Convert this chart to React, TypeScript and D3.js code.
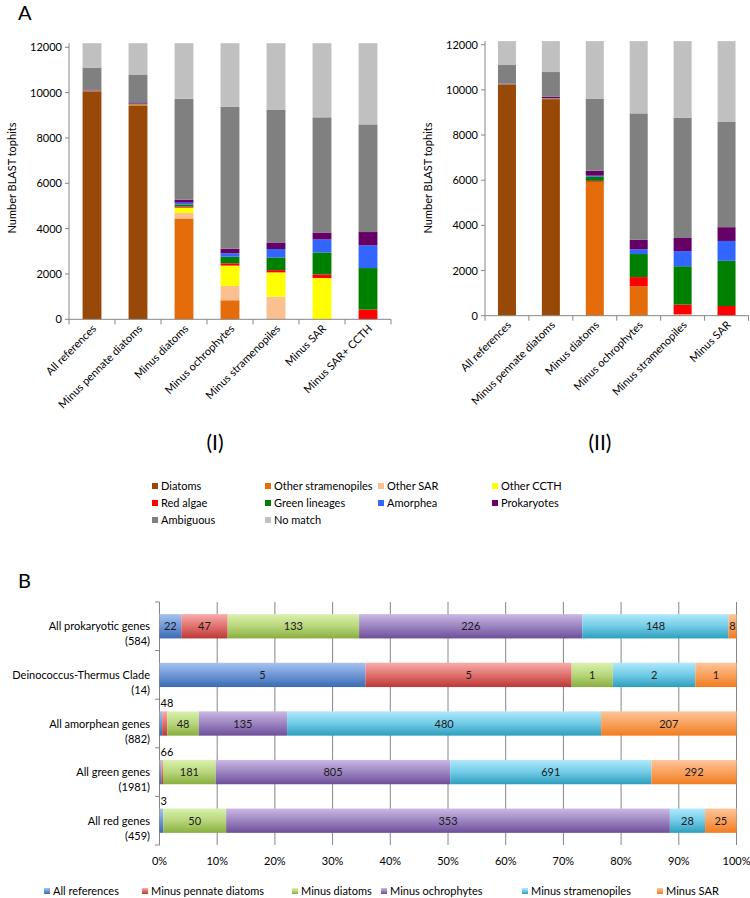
import React from "react";
import * as d3 from "d3";

const FONT = "Lato, 'Liberation Sans', sans-serif";
const AXIS = "#868686";

// ---- panel A data ----
const taxa = ["Diatoms", "Other stramenopiles", "Other SAR", "Other CCTH", "Red algae", "Green lineages", "Amorphea", "Prokaryotes", "Ambiguous", "No match"];
const taxaColors = ["#984807", "#e46c0a", "#fac090", "#ffff00", "#ff0000", "#008000", "#3366ff", "#660066", "#808080", "#c0c0c0"];

const catsI = ["All references", "Minus pennate diatoms", "Minus diatoms", "Minus ochrophytes", "Minus stramenopiles", "Minus SAR", "Minus SAR+ CCTH"];
const diatomsI = [10060, 9410, 0, 0, 0, 0, 0];
const stramI = [10, 40, 4450, 840, 0, 0, 0];
const sarI = [5, 10, 240, 630, 1000, 0, 0];
const ccthI = [5, 10, 235, 900, 1070, 1820, 0];
const redI = [5, 10, 50, 100, 100, 160, 430];
const greenI = [10, 20, 90, 290, 560, 970, 1830];
const amorpheaI = [10, 20, 80, 150, 370, 570, 1000];
const prokI = [35, 50, 130, 200, 290, 310, 590];
const ambiguousI = [950, 1230, 4460, 6260, 5845, 5080, 4750];
const noMatchI = [1090, 1380, 2445, 2810, 2945, 3270, 3580];

const catsII = ["All references", "Minus pennate diatoms", "Minus diatoms", "Minus ochrophytes", "Minus stramenopiles", "Minus SAR"];
const diatomsII = [10220, 9590, 0, 0, 0, 0];
const stramII = [10, 20, 5930, 1310, 0, 0];
const sarII = [0, 0, 0, 0, 60, 0];
const ccthII = [0, 0, 0, 0, 0, 0];
const redII = [10, 10, 40, 400, 430, 430];
const greenII = [10, 10, 180, 1020, 1700, 2000];
const amorpheaII = [5, 10, 50, 210, 670, 880];
const prokII = [20, 60, 220, 420, 580, 610];
const ambiguousII = [825, 1090, 3180, 5600, 5330, 4680];
const noMatchII = [1060, 1370, 2560, 3200, 3390, 3560];

const yTicksA = [0, 2000, 4000, 6000, 8000, 10000, 12000];

// ---- panel B data ----
const geneSets = ["All prokaryotic genes", "Deinococcus-Thermus Clade", "All amorphean genes", "All green genes", "All red genes"];
const steps = ["All references", "Minus pennate diatoms", "Minus diatoms", "Minus ochrophytes", "Minus stramenopiles", "Minus SAR"];
const allRefsB = [22, 5, 4, 6, 3];
const minusPennateB = [47, 5, 8, 6, 0];
const minusDiatomsB = [133, 1, 48, 181, 50];
const minusOchroB = [226, 0, 135, 805, 353];
const minusStramB = [148, 2, 480, 691, 28];
const minusSarB = [8, 1, 207, 292, 25];
const stepGradients = [
  ["#a6c3f0", "#6f97d6", "#3b6bb3"],
  ["#f8acaa", "#e0716e", "#bb3936"],
  ["#daf1ae", "#b8d67b", "#89ae40"],
  ["#cbb8e4", "#9c84c0", "#6d4f99"],
  ["#b0e9fb", "#71cbe6", "#2e9ebe"],
  ["#fdc69c", "#f9a15d", "#f17d20"],
];
const pctTicks = [0, 0.1, 0.2, 0.3, 0.4, 0.5, 0.6, 0.7, 0.8, 0.9, 1];

function StackPanel({ cats, cols, left, right, base, top12, titleX, title, yLabelX }) {
  const rows = cats.map((c, i) => {
    const r: any = { cat: c };
    taxa.forEach((t, k) => (r[t] = cols[k][i]));
    return r;
  });
  const series = d3.stack().keys(taxa)(rows);
  const x = d3.scaleBand().domain(cats).range([left, right]).paddingInner(0.59).paddingOuter(0.295);
  const y = d3.scaleLinear().domain([0, 12000]).range([base, top12]);
  const maxTotal = d3.max(rows, (r) => d3.sum(taxa, (t) => r[t]));
  const step = x.step();
  return (
    <g>
      {series.map((s, k) => (
        <g key={taxa[k]} fill={taxaColors[k]}>
          {s.map((d, i) => d[1] > d[0] ? (
            <rect key={i} x={x(cats[i])} width={x.bandwidth()} y={y(d[1])} height={y(d[0]) - y(d[1])} />
          ) : null)}
        </g>
      ))}
      <line x1={left} x2={left} y1={base} y2={y(maxTotal)} stroke={AXIS} />
      {yTicksA.map((t) => (
        <g key={t}>
          <line x1={left - 4} x2={left} y1={y(t)} y2={y(t)} stroke={AXIS} />
          <text x={left - 7} y={y(t) + 4} textAnchor="end" fontSize={11}>{t}</text>
        </g>
      ))}
      <line x1={left} x2={right} y1={base} y2={base} stroke={AXIS} />
      {d3.range(cats.length + 1).map((i) => (
        <line key={i} x1={left + i * step} x2={left + i * step} y1={base} y2={base + 5} stroke={AXIS} />
      ))}
      {cats.map((c) => {
        const cx = x(c) + x.bandwidth() / 2 + 5;
        const cy = base + 10;
        return (
          <text key={c} x={cx} y={cy} textAnchor="end" fontSize={11} transform={`rotate(-45 ${cx} ${cy})`}>{c}</text>
        );
      })}
      <text x={yLabelX} y={178} textAnchor="middle" fontSize={11} transform={`rotate(-90 ${yLabelX} 178)`}>Number BLAST tophits</text>
      <text x={titleX} y={450} textAnchor="middle" fontSize={21}>{title}</text>
    </g>
  );
}

function PanelB() {
  const cols = [allRefsB, minusPennateB, minusDiatomsB, minusOchroB, minusStramB, minusSarB];
  const totals = geneSets.map((g, i) => d3.sum(cols, (c) => c[i]));
  const rows = geneSets.map((g, i) => {
    const r: any = { g };
    steps.forEach((s, k) => (r[s] = cols[k][i] / totals[i]));
    return r;
  });
  const series = d3.stack().keys(steps)(rows);
  const x = d3.scaleLinear().domain([0, 1]).range([159.5, 736.5]);
  const y = d3.scaleBand().domain(geneSets).range([602, 845]).paddingInner(0.5).paddingOuter(0.25);
  const bh = y.bandwidth();
  return (
    <g>
      <defs>
        {stepGradients.map((g, k) => (
          <linearGradient key={k} id={`gb${k}`} x1="0" y1="0" x2="0" y2="1">
            <stop offset="0" stopColor={g[0]} />
            <stop offset="0.5" stopColor={g[1]} />
            <stop offset="1" stopColor={g[2]} />
          </linearGradient>
        ))}
      </defs>
      {pctTicks.map((t) => (
        <g key={t}>
          <line x1={x(t)} x2={x(t)} y1={602} y2={845} stroke={AXIS} />
          <text x={x(t)} y={865} textAnchor="middle" fontSize={11}>{`${Math.round(t * 100)}%`}</text>
        </g>
      ))}
      {d3.range(geneSets.length + 1).map((i) => (
        <line key={i} x1={155} x2={159.5} y1={602 + i * y.step()} y2={602 + i * y.step()} stroke={AXIS} />
      ))}
      {series.map((s, k) => (
        <g key={steps[k]}>
          {s.map((d, i) => d[1] > d[0] ? (
            <rect key={i} x={x(d[0])} width={x(d[1]) - x(d[0])} y={y(geneSets[i])} height={bh} fill={`url(#gb${k})`} />
          ) : null)}
        </g>
      ))}
      {series.map((s, k) => (
        <g key={steps[k]}>
          {s.map((d, i) => {
            const w = x(d[1]) - x(d[0]);
            if (cols[k][i] === 0 || w < 7) return null;
            return (
              <text key={i} x={(x(d[0]) + x(d[1])) / 2} y={y(geneSets[i]) + bh / 2 + 4} textAnchor="middle" fontSize={11} fill="#1a1a1a">{cols[k][i]}</text>
            );
          })}
        </g>
      ))}
      {geneSets.map((g, i) => {
        const small = series
          .map((s, k) => ({ v: cols[k][i], w: x(s[i][1]) - x(s[i][0]) }))
          .filter((d) => d.v > 0 && d.w < 7)
          .map((d) => d.v)
          .join("");
        return small ? (
          <text key={g} x={x(0) + 1} y={y(g) - 4} fontSize={11}>{small}</text>
        ) : null;
      })}
      {geneSets.map((g, i) => (
        <g key={g}>
          <text x={150} y={y(g) + bh / 2 + 4} textAnchor="end" fontSize={11}>{g}</text>
          <text x={150} y={y(g) + bh / 2 + 19} textAnchor="end" fontSize={11}>{`(${totals[i]})`}</text>
        </g>
      ))}
    </g>
  );
}

const legendAX = [152, 265, 378, 492];
const legendAY = [486, 503, 520];
const legendBX = [44, 142, 292, 381, 522, 657];

export default function App() {
  return (
    <svg width={750} height={898} style={{ position: "absolute", left: 0, top: 0, background: "#fff" }} fontFamily={FONT} fill="#000">
      <rect width={750} height={898} fill="#fff" />
      <text x={18} y={20} fontSize={20}>A</text>
      <StackPanel
        cats={catsI}
        cols={[diatomsI, stramI, sarI, ccthI, redI, greenI, amorpheaI, prokI, ambiguousI, noMatchI]}
        left={69} right={391} base={319.3} top12={47.3}
        titleX={215} title="(I)" yLabelX={16}
      />
      <StackPanel
        cats={catsII}
        cols={[diatomsII, stramII, sarII, ccthII, redII, greenII, amorpheaII, prokII, ambiguousII, noMatchII]}
        left={485} right={748.5} base={315.7} top12={44.7}
        titleX={600} title="(II)" yLabelX={432}
      />
      {taxa.map((t, k) => {
        const lx = legendAX[k % 4];
        const ly = legendAY[Math.floor(k / 4)];
        return (
          <g key={t}>
            <rect x={lx} y={ly - 3} width={6} height={6} fill={taxaColors[k]} />
            <text x={lx + 9} y={ly + 4} fontSize={11}>{t}</text>
          </g>
        );
      })}
      <text x={18} y={588} fontSize={20}>B</text>
      <PanelB />
      {steps.map((s, k) => (
        <g key={s}>
          <rect x={legendBX[k]} y={888} width={6} height={6} fill={`url(#gb${k})`} />
          <text x={legendBX[k] + 9} y={895} fontSize={11}>{s}</text>
        </g>
      ))}
    </svg>
  );
}
